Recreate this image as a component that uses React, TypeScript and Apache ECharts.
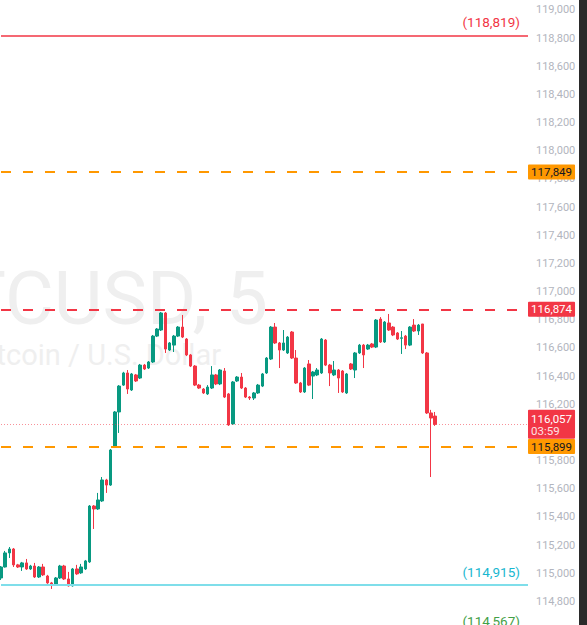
import React, { useEffect, useRef } from "react";
import * as echarts from "echarts";

// [open, close, low, high]
const candles: number[][] = [
  [114966, 115044, 114952, 115051],
  [115044, 115144, 115040, 115158],
  [115144, 115172, 115108, 115186],
  [115172, 115059, 115044, 115179],
  [115059, 115044, 115037, 115066],
  [115044, 115073, 115016, 115080],
  [115073, 115030, 115023, 115101],
  [115030, 115051, 115023, 115059],
  [115051, 114973, 114966, 115073],
  [114973, 115044, 114966, 115051],
  [115044, 114988, 114980, 115066],
  [114980, 114931, 114924, 114988],
  [114931, 114917, 114888, 114938],
  [114917, 114966, 114910, 114973],
  [114966, 115051, 114959, 115059],
  [115051, 114959, 114952, 115059],
  [114959, 114910, 114905, 115009],
  [114910, 115030, 114905, 115037],
  [115030, 114995, 114988, 115059],
  [115002, 115044, 114995, 115066],
  [115030, 115087, 115023, 115094],
  [115080, 115477, 115073, 115484],
  [115477, 115456, 115314, 115484],
  [115456, 115520, 115449, 115570],
  [115513, 115662, 115506, 115683],
  [115662, 115626, 115570, 115670],
  [115626, 115875, 115620, 115882],
  [115896, 116145, 115889, 116152],
  [116145, 116329, 115996, 116336],
  [116336, 116422, 116330, 116430],
  [116422, 116308, 116273, 116443],
  [116301, 116415, 116294, 116422],
  [116408, 116365, 116358, 116415],
  [116386, 116478, 116379, 116486],
  [116478, 116450, 116443, 116486],
  [116457, 116500, 116450, 116507],
  [116500, 116684, 116493, 116692],
  [116684, 116734, 116677, 116741],
  [116727, 116848, 116720, 116855],
  [116848, 116592, 116564, 116855],
  [116585, 116635, 116578, 116642],
  [116620, 116684, 116571, 116692],
  [116684, 116748, 116677, 116755],
  [116748, 116677, 116670, 116834],
  [116663, 116550, 116542, 116670],
  [116550, 116471, 116464, 116557],
  [116471, 116336, 116329, 116478],
  [116336, 116315, 116308, 116344],
  [116308, 116280, 116273, 116315],
  [116273, 116322, 116266, 116336],
  [116315, 116408, 116308, 116471],
  [116408, 116344, 116336, 116415],
  [116344, 116443, 116336, 116450],
  [116436, 116251, 116244, 116457],
  [116273, 116053, 116046, 116280],
  [116060, 116358, 116053, 116365],
  [116365, 116393, 116358, 116400],
  [116393, 116315, 116308, 116422],
  [116315, 116251, 116244, 116322],
  [116251, 116244, 116230, 116258],
  [116244, 116280, 116230, 116287],
  [116280, 116336, 116273, 116344],
  [116329, 116415, 116322, 116422],
  [116422, 116528, 116415, 116535],
  [116521, 116748, 116514, 116755],
  [116748, 116635, 116628, 116777],
  [116635, 116585, 116457, 116642],
  [116585, 116635, 116578, 116727],
  [116564, 116677, 116557, 116684],
  [116713, 116528, 116521, 116720],
  [116528, 116351, 116344, 116585],
  [116351, 116287, 116280, 116358],
  [116287, 116457, 116280, 116464],
  [116486, 116336, 116329, 116514],
  [116400, 116429, 116237, 116436],
  [116408, 116443, 116400, 116457],
  [116422, 116663, 116415, 116670],
  [116656, 116478, 116471, 116663],
  [116478, 116422, 116329, 116486],
  [116408, 116443, 116400, 116507],
  [116443, 116386, 116280, 116450],
  [116436, 116287, 116280, 116443],
  [116280, 116415, 116273, 116422],
  [116486, 116450, 116443, 116493],
  [116443, 116564, 116386, 116571],
  [116564, 116620, 116557, 116628],
  [116620, 116550, 116457, 116628],
  [116592, 116620, 116585, 116628],
  [116628, 116606, 116599, 116635],
  [116606, 116798, 116599, 116805],
  [116805, 116642, 116635, 116819],
  [116642, 116784, 116635, 116791],
  [116777, 116727, 116720, 116841],
  [116748, 116692, 116684, 116755],
  [116706, 116663, 116656, 116713],
  [116668, 116672, 116557, 116720],
  [116684, 116620, 116592, 116692],
  [116620, 116748, 116613, 116755],
  [116762, 116720, 116713, 116805],
  [116720, 116762, 116692, 116770],
  [116770, 116564, 116557, 116770],
  [116564, 116138, 116131, 116571],
  [116138, 116102, 115683, 116160],
  [116116, 116057, 116046, 116145],
];

const totalSlots = 126;
const categories: string[] = Array.from({ length: totalSlots }, (_, i) => String(i));

const resistanceHigh = 118819;
const orangeUpper = 117849;
const redDashed = 116874;
const orangeLower = 115899;
const cyanSupport = 114915;
const greenSupport = 114567;
const currentPrice = 116057;
const countdown = "03:59";

// visible price window of the pane
const yMin = 114632;
const yMax = 119071;
const tickStep = 200;

const RED = "#F23645";
const GREEN = "#089981";
const ORANGE = "#FF9800";
const FONT = "Roboto, 'Liberation Sans', sans-serif";

const fmt = (v: number) => v.toLocaleString("en-US");

export default function App() {
  const ref = useRef<HTMLDivElement>(null);
  useEffect(() => {
    if (!ref.current) return;
    const chart = echarts.init(ref.current, null, { renderer: "svg" });
    const tag = (bg: string, fg: string) => ({
      show: true,
      position: "end",
      distance: 0,
      formatter: (p: any) => fmt(p.value),
      backgroundColor: bg,
      color: fg,
      fontSize: 11.5,
      fontFamily: FONT,
      padding: [2, 3, 1, 3],
      borderRadius: 1,
    });
    const staticGraphics: any[] = [
      {
        id: "wm1",
        type: "text",
        z: 0,
        silent: true,
        style: {
          text: "BTCUSD, 5",
          x: 268,
          y: 298,
          fill: "#efefef",
          font: `75px ${FONT}`,
          textAlign: "right",
          textVerticalAlign: "middle",
        },
      },
      {
        id: "wm2",
        type: "text",
        z: 0,
        silent: true,
        style: {
          text: "Bitcoin / U.S. Dollar",
          x: 221,
          y: 355,
          fill: "#efefef",
          font: `29px ${FONT}`,
          textAlign: "right",
          textVerticalAlign: "middle",
        },
      },
      {
        id: "scaleEdge",
        type: "rect",
        right: 0,
        top: 0,
        z: 100,
        shape: { width: 8, height: 625 },
        style: { fill: "#2a2a2a" },
      },
    ];
    chart.setOption({
      animation: false,
      backgroundColor: "#ffffff",
      grid: { left: 1, right: 59, top: 0, bottom: 0, containLabel: false },
      xAxis: {
        type: "category",
        data: categories,
        boundaryGap: false,
        show: false,
      },
      yAxis: {
        type: "value",
        position: "right",
        min: yMin,
        max: yMax,
        splitNumber: 22,
        splitLine: { show: false },
        axisLine: { show: false },
        axisTick: { show: false },
        axisLabel: {
          showMinLabel: false,
          showMaxLabel: false,
          color: "#b2b5be",
          fontSize: 11,
          fontFamily: FONT,
          margin: 8,
          formatter: (v: number) => (Math.round(v) % tickStep === 0 ? fmt(Math.round(v)) : ""),
        },
      },
      graphic: staticGraphics,
      series: [
        {
          type: "candlestick",
          data: candles,
          barWidth: 3,
          z: 3,
          itemStyle: {
            color: GREEN,
            color0: RED,
            borderColor: GREEN,
            borderColor0: RED,
            borderWidth: 1,
          },
          markLine: {
            silent: true,
            symbol: ["none", "none"],
            animation: false,
            data: [
              {
                yAxis: resistanceHigh,
                lineStyle: { color: RED, type: "solid", width: 1.5 },
                label: {
                  show: true,
                  position: "insideEndTop",
                  distance: [8, 6],
                  formatter: `(${fmt(resistanceHigh)})`,
                  color: RED,
                  fontSize: 13.5,
                  fontFamily: FONT,
                },
              },
              {
                yAxis: orangeUpper,
                lineStyle: { color: ORANGE, type: [10, 12], width: 2 },
                label: tag(ORANGE, "#131722"),
              },
              {
                yAxis: redDashed,
                lineStyle: { color: RED, type: [10, 12], width: 2 },
                label: tag(RED, "#ffffff"),
              },
              {
                yAxis: currentPrice,
                lineStyle: { color: "rgba(242,54,69,0.55)", type: [1, 2], width: 1 },
                label: {
                  show: true,
                  position: "end",
                  distance: 0,
                  backgroundColor: RED,
                  padding: [3, 3, 2, 3],
                  borderRadius: 1,
                  formatter: `{a|${fmt(currentPrice)}}\n{b|${countdown}}`,
                  rich: {
                    a: { color: "#ffffff", fontSize: 11.5, fontFamily: FONT, lineHeight: 12 },
                    b: { color: "#fde2e4", fontSize: 11.5, fontFamily: FONT, lineHeight: 12 },
                  },
                },
              },
              {
                yAxis: orangeLower,
                lineStyle: { color: ORANGE, type: [10, 12], width: 2 },
                label: tag(ORANGE, "#131722"),
              },
              {
                yAxis: cyanSupport,
                lineStyle: { color: "#7fdeea", type: "solid", width: 2 },
                label: {
                  show: true,
                  position: "insideEndTop",
                  distance: [8, 6],
                  formatter: `(${fmt(cyanSupport)})`,
                  color: "#18b7d0",
                  fontSize: 13.5,
                  fontFamily: FONT,
                },
              },
            ],
          },
        },
      ],
    });
    // level below the visible window: place its label through the axis scale
    const gy = chart.convertToPixel({ yAxisIndex: 0 }, greenSupport) as number;
    const gxEnd = chart.convertToPixel({ xAxisIndex: 0 }, categories.length - 1) as number;
    chart.setOption({
      graphic: [
        ...staticGraphics,
        {
          id: "greenLabel",
          type: "text",
          z: 10,
          silent: true,
          style: {
            text: `(${fmt(greenSupport)})`,
            x: gxEnd - 8,
            y: gy - 6,
            fill: "#43a047",
            font: `13.5px ${FONT}`,
            textAlign: "right",
            textVerticalAlign: "bottom",
          },
        },
      ],
    });
    return () => chart.dispose();
  }, []);
  return (
    <div
      ref={ref}
      style={{ position: "fixed", left: 0, top: 0, width: 587, height: 625 }}
    />
  );
}
